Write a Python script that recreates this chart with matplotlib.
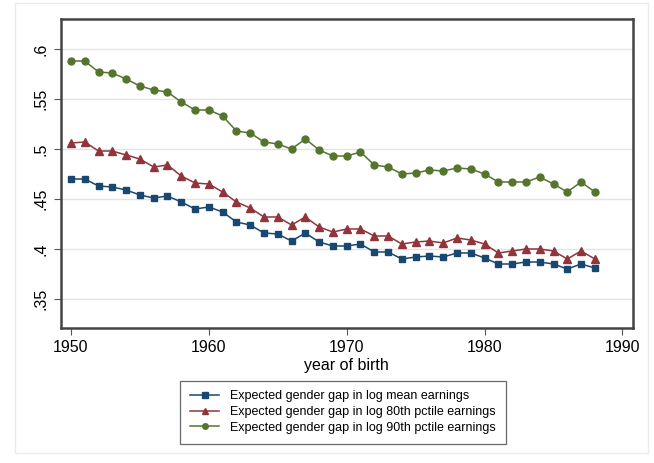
import numpy as np
import matplotlib.pyplot as plt
from matplotlib.patches import Rectangle

plt.rcParams['font.family'] = ['Liberation Sans', 'DejaVu Sans']

years = list(range(1950, 1989))

gap_mean = [0.470, 0.470, 0.463, 0.462, 0.459, 0.454, 0.451, 0.453, 0.447, 0.440,
            0.442, 0.437, 0.427, 0.424, 0.416, 0.415, 0.408, 0.416, 0.407, 0.403,
            0.403, 0.405, 0.397, 0.397, 0.390, 0.392, 0.393, 0.392, 0.396, 0.396,
            0.391, 0.385, 0.385, 0.387, 0.387, 0.385, 0.380, 0.385, 0.381]

gap_p80 = [0.506, 0.507, 0.498, 0.498, 0.494, 0.490, 0.482, 0.484, 0.473, 0.466,
           0.465, 0.457, 0.447, 0.441, 0.432, 0.432, 0.424, 0.432, 0.422, 0.417,
           0.420, 0.420, 0.413, 0.413, 0.405, 0.407, 0.408, 0.406, 0.411, 0.409,
           0.405, 0.396, 0.398, 0.400, 0.400, 0.398, 0.390, 0.398, 0.390]

gap_p90 = [0.588, 0.588, 0.577, 0.576, 0.570, 0.563, 0.559, 0.557, 0.547, 0.539,
           0.539, 0.533, 0.518, 0.516, 0.507, 0.505, 0.500, 0.510, 0.499, 0.493,
           0.493, 0.497, 0.484, 0.482, 0.475, 0.476, 0.479, 0.478, 0.481, 0.480,
           0.475, 0.467, 0.467, 0.467, 0.472, 0.465, 0.457, 0.467, 0.457]

labels = ['Expected gender gap in log mean earnings',
          'Expected gender gap in log 80th pctile earnings',
          'Expected gender gap in log 90th pctile earnings']

yticks = [0.35, 0.4, 0.45, 0.5, 0.55, 0.6]
ytick_labels = ['.35', '.4', '.45', '.5', '.55', '.6']
xticks = [1950, 1960, 1970, 1980, 1990]

fig = plt.figure(figsize=(6.54, 4.63), dpi=100)
fig.patches.append(Rectangle((15 / 654, 1 - 453 / 463), 633 / 654, 450 / 463,
                             transform=fig.transFigure, fill=False,
                             edgecolor='#e6ecef', linewidth=1))

ax = fig.add_axes([60.5 / 654, 1 - 328 / 463, 572 / 654, 309 / 463])

ax.plot(years, gap_mean, color='#1a476f', marker='s', markersize=5, linewidth=1.1, label=labels[0])
ax.plot(years, gap_p80, color='#90353b', marker='^', markersize=6, linewidth=1.1, label=labels[1])
ax.plot(years, gap_p90, color='#55752f', marker='o', markersize=5, linewidth=1.1, label=labels[2])

ax.set_xlim(1949.24, 1990.73)
ax.set_ylim(0.321, 0.630)
ax.set_xticks(xticks)
ax.set_yticks(yticks)
ax.set_yticklabels(ytick_labels, rotation=90, va='center')
ax.grid(axis='y', color='#e4e4e4', linewidth=1)
ax.set_axisbelow(True)
ax.tick_params(labelsize=11.5, length=5, color='#555555', width=0.8)
for s in ax.spines.values():
    s.set_color('#444444')
    s.set_linewidth(1.8)

ax.set_xlabel('year of birth', fontsize=11.5, labelpad=2)

leg = fig.legend(loc='upper center', bbox_to_anchor=(343 / 654, 1 - 380.5 / 463),
                 ncol=1, fontsize=9.0, frameon=True, fancybox=False, borderaxespad=0,
                 handlelength=2.3, borderpad=0.8, labelspacing=0.28, handletextpad=0.9)
leg.get_frame().set_edgecolor('#444444')
leg.get_frame().set_linewidth(0.9)
for h in leg.legend_handles:
    h.set_markersize(4)

plt.savefig('out.png', dpi=100)
